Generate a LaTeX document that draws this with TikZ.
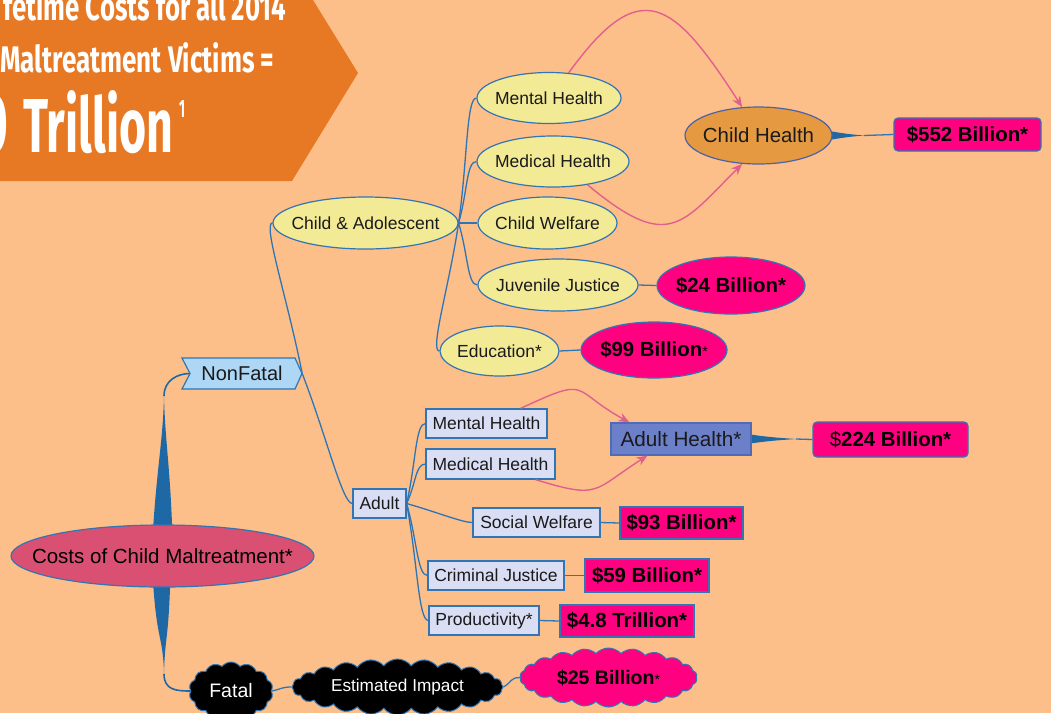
\documentclass[tikz,border=0pt]{standalone}
\usepackage{fontspec}
\usepackage{graphicx}
\setmainfont{Liberation Sans}
\newfontfamily\titlefont{Fira Sans}
\usetikzlibrary{shapes.geometric,shapes.symbols,arrows.meta,calc}
\pgfdeclarelayer{bg}
\pgfsetlayers{bg,main}
\definecolor{bgc}{RGB}{253,191,138}
\definecolor{bannerc}{RGB}{232,121,36}
\definecolor{lnc}{RGB}{46,117,182}
\definecolor{wedgec}{RGB}{30,105,165}
\definecolor{yel}{RGB}{242,234,148}
\definecolor{bdr}{RGB}{50,117,181}
\definecolor{chc}{RGB}{229,154,66}
\definecolor{chb}{RGB}{75,98,168}
\definecolor{mag}{RGB}{255,0,128}
\definecolor{lavc}{RGB}{217,222,244}
\definecolor{ahc}{RGB}{107,128,201}
\definecolor{ahb}{RGB}{78,107,184}
\definecolor{nfc}{RGB}{173,215,244}
\definecolor{rootc}{RGB}{217,80,115}
\definecolor{pinkc}{RGB}{225,95,140}
\definecolor{txt}{RGB}{26,26,26}
\newcommand\zw[1]{\makebox[0pt]{#1}}
\newcommand\sst{{\fontsize{14}{14}\mdseries *}}
\begin{document}
\begin{tikzpicture}[x=1pt,y=-1pt,
  base/.style={inner sep=0pt, text=txt},
  yell/.style={base, ellipse, draw=bdr, line width=1.2pt, fill=yel, font=\fontsize{17.5}{20}\selectfont},
  lav/.style={base, rectangle, draw=bdr, line width=1.2pt, fill=lavc, font=\fontsize{17.5}{20}\selectfont},
  money/.style={base, draw=bdr, line width=1.2pt, fill=mag, text=black, font=\fontsize{20.4}{24}\selectfont\bfseries},
  cl/.style={base, cloud, cloud ignores aspect, cloud puff arc=105, draw=bdr, line width=1pt},
  br/.style={draw=lnc, line width=1.3pt},
  mm/.style={to path={.. controls ($(\tikztostart)!0.5!(\tikztotarget)$) and ($(\tikztotarget)+(-10,0)$) .. (\tikztotarget)}},
  pk/.style={draw=pinkc, line width=1.4pt, -{Stealth[length=11pt,width=9pt]}},
]
\useasboundingbox (0,0) rectangle (1051,713);
\begin{pgfonlayer}{bg}
\fill[bgc] (0,0) rectangle (1051,713);
\end{pgfonlayer}

% title banner
\fill[bannerc] (0,0) -- (313,0) -- (358,73) -- (292,181) -- (0,181) -- cycle;
\node[anchor=base west, inner sep=0pt, text=white] (t1) at (3,20) {\resizebox{283pt}{31pt}{\titlefont\bfseries fetime Costs for all 2014}};
\node[anchor=base west, inner sep=0pt, text=white] (t2) at (0,72) {\resizebox{274pt}{30pt}{\titlefont\bfseries Maltreatment Victims =}};
\node[anchor=base east, inner sep=0pt, text=white] (t0) at (9,152) {\resizebox{30pt}{58pt}{\titlefont\bfseries 0}};
\node[anchor=base west, inner sep=0pt, text=white] (t3) at (23,152) {\resizebox{150pt}{62pt}{\titlefont\bfseries Trillion}};
\node[anchor=base west, inner sep=0pt, text=white] (t4) at (179,117) {\resizebox{6pt}{17pt}{\titlefont\bfseries 1}};

% root
\node[base, ellipse, fill=rootc, draw=bdr, line width=1.2pt, text=black, minimum width=303, minimum height=62, font=\fontsize{20.5}{24}\selectfont] (root) at (162.5,556) {\zw{Costs of Child Maltreatment*}};

% NonFatal tag
\filldraw[fill=nfc, draw=bdr, line width=1.2pt] (182,358) -- (295,358) -- (302,373.5) -- (295,389) -- (182,389) -- (190,373.5) -- cycle;
\node[base, minimum width=120, minimum height=31, font=\fontsize{20}{24}\selectfont] (nf) at (242,373.5) {NonFatal};
\coordinate (nfn) at (190,373.5);

% child & adolescent
\node[yell, minimum width=185, minimum height=52] (ca) at (365.5,223) {\zw{Child \& Adolescent}};
\node[yell, minimum width=144, minimum height=51] (cmh) at (549,98) {\zw{Mental Health}};
\node[yell, minimum width=152, minimum height=51] (cmedh) at (553,161.5) {\zw{Medical Health}};
\node[yell, minimum width=139, minimum height=52] (ccw) at (547.5,223) {\zw{Child Welfare}};
\node[yell, minimum width=160, minimum height=52] (cjj) at (558,285) {\zw{Juvenile Justice}};
\node[yell, minimum width=119, minimum height=50] (ced) at (499.5,351) {\zw{Education*}};
\node[base, ellipse, fill=chc, draw=chb, line width=1.2pt, minimum width=147, minimum height=57, font=\fontsize{20.4}{24}\selectfont] (ch) at (758.5,135.5) {\zw{Child Health}};
\node[money, rounded corners=4pt, minimum width=147, minimum height=33] (m552) at (967.5,134.5) {\$552 Billion*};
\node[money, ellipse, minimum width=148, minimum height=57] (m24) at (731,285.5) {\zw{\$24 Billion*}};
\node[money, ellipse, minimum width=146, minimum height=56] (m99) at (654,350) {\zw{\$99 Billion\sst}};

% adult
\node[lav, minimum width=53, minimum height=29] (ad) at (379.5,503.5) {Adult};
\node[lav, minimum width=121, minimum height=29] (amh) at (486.5,423.5) {Mental Health};
\node[lav, minimum width=129, minimum height=30] (amedh) at (490.5,464) {Medical Health};
\node[lav, minimum width=127, minimum height=29] (asw) at (536.5,522.5) {Social Welfare};
\node[lav, minimum width=136, minimum height=29] (acj) at (496,575.5) {Criminal Justice};
\node[lav, minimum width=110, minimum height=29] (apr) at (484,620.5) {Productivity*};
\node[base, fill=ahc, draw=ahb, line width=1.2pt, minimum width=140, minimum height=32, font=\fontsize{20.7}{24}\selectfont] (ah) at (681,439) {Adult Health*};
\node[money, rounded corners=4pt, minimum width=155, minimum height=35] (m224) at (890.5,439.5) {\textmd{\$}224 Billion*};
\node[money, minimum width=123, minimum height=32] (m93) at (681.5,523) {\$93 Billion*};
\node[money, minimum width=124, minimum height=33] (m59) at (647,575.5) {\$59 Billion*};
\node[money, minimum width=134, minimum height=32] (m48) at (627,621) {\$4.8 Trillion*};

% fatal
\node[cl, cloud puffs=14, fill=black, text=white, minimum width=84, minimum height=58, font=\fontsize{19.5}{22}\selectfont] (fa) at (231,691) {\zw{Fatal}};
\node[cl, cloud puffs=24, fill=black, text=white, minimum width=211, minimum height=56, font=\fontsize{17.2}{20}\selectfont] (est) at (397.5,687) {\zw{Estimated Impact}};
\node[cl, cloud puffs=22, cloud puff arc=95, fill=mag, text=black, minimum width=177, minimum height=59, font=\fontsize{19.5}{22}\selectfont\bfseries] (m25) at (608.5,677.5) {\zw{\$25 Billion\sst}};

\begin{pgfonlayer}{bg}
% tapered root branches
\coordinate (wt) at (164,396);
\coordinate (wb) at (164,674);
\fill[wedgec] ($(root.north)+(-10,14)$) .. controls +(4,-70) and +(-1,45) .. (wt) .. controls +(1,45) and +(-2,-70) .. ($(root.north)+(10,14)$) -- cycle;
\draw[draw=wedgec, line width=1.6pt] (wt) .. controls +(0,-16) and +(-12,0) .. (nfn);
\fill[wedgec] ($(root.south)+(-10,-14)$) .. controls +(4,70) and +(-1,-40) .. (wb) .. controls +(1,-40) and +(-2,70) .. ($(root.south)+(8,-14)$) -- cycle;
\draw[draw=wedgec, line width=1.6pt] (wb) .. controls +(0,16) and +(-14,0) .. (fa.west);

% tapered value connectors
\coordinate (cht) at (864,135.5);
\fill[wedgec] ($(ch.east)+(-6,-5)$) .. controls +(16,3) and +(-12,-1) .. (cht) .. controls +(-12,1) and +(16,-3) .. ($(ch.east)+(-6,5)$) -- cycle;
\draw[br] (cht) -- (m552.west);
\coordinate (aht) at (796,439);
\fill[wedgec] ($(ah.east)+(-4,-5)$) .. controls +(18,3) and +(-14,-1) .. (aht) .. controls +(-14,1) and +(18,-3) .. ($(ah.east)+(-4,5)$) -- cycle;
\draw[br] (aht) -- (m224.west);

% thin branches
\draw[br] (nf.east) to[mm] (ca.west);
\draw[br] (nf.east) to[mm] (ad.west);
\draw[br] (ca.east) to[mm] (cmh.west);
\draw[br] (ca.east) to[mm] (cmedh.west);
\draw[br] (ca.east) -- (ccw.west);
\draw[br] (ca.east) to[mm] (cjj.west);
\draw[br] (ca.east) to[mm] (ced.west);
\draw[br] (cjj.east) -- (m24.west);
\draw[br] (ced.east) -- (m99.west);
\draw[br] (ad.east) to[mm] (amh.west);
\draw[br] (ad.east) to[mm] (amedh.west);
\draw[br] (ad.east) to[mm] (asw.west);
\draw[br] (ad.east) to[mm] (acj.west);
\draw[br] (ad.east) to[mm] (apr.west);
\draw[br] (asw.east) -- (m93.west);
\draw[br] (acj.east) -- (m59.west);
\draw[br] (apr.east) -- (m48.west);
\draw[br] (fa.east) to[mm] (est.west);
\draw[br] (est.east) to[mm] (m25.west);
\end{pgfonlayer}

% pink relation arrows
\draw[pk] (cmh.52) .. controls +(72,-99.5) and +(-69,-107) .. (ch.120);
\draw[pk] (cmedh.-34) .. controls +(81,67.5) and +(-61,61) .. (ch.-120);
\draw[pk] ($(amh.north east)+(-27,0)$) .. controls +(71,-33) and +(-60,-33) .. ($(ah.north west)+(19,0)$);
\draw[pk] ($(amedh.south east)+(-20,0)$) .. controls +(65,20) and +(-55,35) .. ($(ah.south west)+(37,0)$);
\end{tikzpicture}
\end{document}
